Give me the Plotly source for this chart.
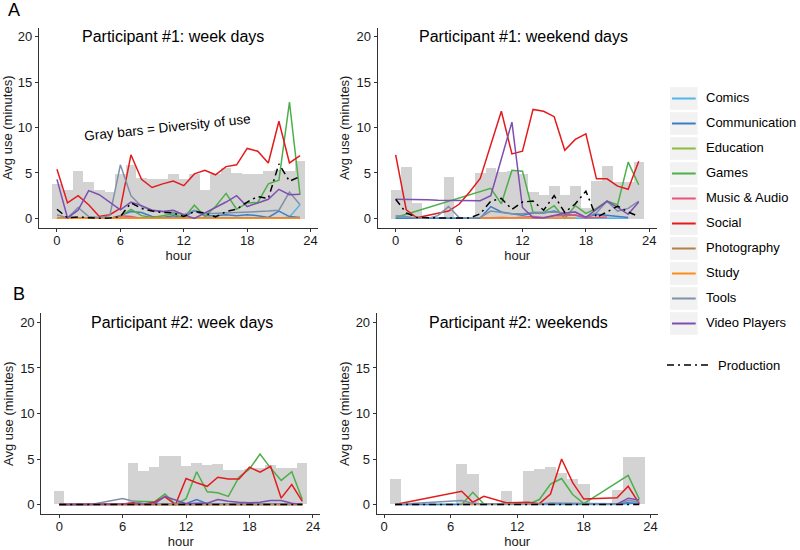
import plotly.graph_objects as go

# ---------------- data ----------------
HOURS = list(range(24))
HOURS_B2 = list(range(1, 24))

CATEGORIES = ["Comics", "Communication", "Education", "Games", "Music & Audio",
              "Social", "Photography", "Study", "Tools", "Video Players"]
COLORS = ["#56B4E9", "#3C7DC4", "#8CBB3F", "#4DAF4A", "#E8537A",
          "#E41A1C", "#B0804A", "#FF8C1A", "#8090A8", "#7E4FB0"]
N = None

# Participant #1: week days
a1_diversity = [3.8, 3.2, 5.2, 4.0, 3.2, 2.9, 4.9, 5.9, 4.5, 4.4, 4.4, 4.9, 4.4, 4.9, 3.2, 4.9, 5.6, 5.0, 4.9, 4.9, 5.3, 5.4, 5.3, 6.3]
a1_comics = [0, 0, 0, 0, 0, 0, 0, 0, 0, 0, 0, 0, 0, 0, 0, 0, 0, 0, 0, 0, 0, 0, 0.15, 1.5]
a1_communication = [0, 0, 0, 0, 0, 0, 0.3, 0.75, 0.65, 0.2, 0.1, 0.3, 0.1, 0.85, 0.3, 0.3, 0.4, 0.3, 0.4, 0.3, 0.1, 0.8, 0.2, 0.1]
a1_education = [0] * 24
a1_games = [0.1, 0, 0, 0, 0, 0, 0.2, 1.0, 0.3, 0.1, 0.3, 0.5, 0.05, 1.45, 0.2, 1.3, 2.75, 1.0, 1.7, 1.75, 3.8, 4.2, 12.8, 2.6]
a1_music = [0, 0, 0, 0, 0, 0, 0.3, 0.2, 0, 0, 0, 0, 0, 0, 0, 0, 0, 0, 0, 0, 0, 0, 0, 0]
a1_social = [5.4, 1.7, 2.5, 1.5, 0.2, 0.4, 1.1, 7.0, 4.3, 3.4, 3.8, 4.1, 3.6, 4.9, 5.3, 4.8, 5.7, 5.9, 7.7, 7.4, 6.1, 10.7, 6.1, 6.9]
a1_photography = [0] * 24
a1_study = [0] * 24
a1_tools = [0.4, 0.05, 1.2, 0.2, 0.1, 0.3, 5.9, 2.5, 1.3, 0.9, 0.75, 0.65, 0.4, 0.9, 0.5, 0.55, 0.6, 0.65, 0.7, 0.7, 0.8, 0.9, 2.9, 1.5]
a1_video = [4.3, 0.05, 0.9, 3.05, 2.6, 1.8, 0.95, 1.8, 1.4, 0.9, 0.75, 0.9, 0.4, 0.0, 0.6, 1.2, 1.8, 2.5, 1.3, 1.7, 2.1, 3.2, 2.6, 2.65]
a1_production = [1.0, 0.05, 0.15, 0.05, 0.0, 0.05, 0.2, 1.7, 1.1, 0.8, 0.65, 0.6, 0.2, 0.75, 0.6, 0.15, 0.75, 1.0, 1.8, 2.4, 2.2, 6.0, 4.1, 4.6]

# Participant #1: weekend days
a2_diversity = [3.2, 5.65, 1.75, 0, 0, 4.55, 0, 0, 5.0, 5.55, 5.1, 5.3, 4.9, 2.9, 2.65, 3.65, 2.65, 3.65, 1.2, 4.1, 5.8, 4.0, 4.0, 6.2]
a2_comics = [0, 0, 0, 0, 0, 0, 0, 0, 0, 0, 0, 0, 0, 0, 0, 0, 0, 0, 0, 0, 0, 0, 0, N]
a2_communication = [0, 0, 0, 0, 0, 0, 0, 0, 0, 1.3, 0.7, 0.5, 0.35, 0.6, 0.6, 0.8, 0.45, 0.35, 0.1, 0.45, 0.35, 0.2, 0.1, N]
a2_education = [N] * 24
a2_games = [0.1, N, N, N, N, N, N, N, N, 3.3, 1.6, 5.3, 5.2, 0.65, 0.65, 1.4, 0.0, 1.4, 0.55, 1.1, 1.9, 1.5, 6.2, 3.7]
a2_music = [N, N, N, N, N, N, N, N, 0.05, 0.1, 0.1, 0.05, 0.1, 0.2, 0.1, 0.3, 0.3, 0.4, 0.05, 0.1, 0.15, N, N, N]
a2_social = [7.0, 0.95, 0.07, 0.3, 0.5, 0.8, 1.55, 2.9, 4.4, 8.0, 11.8, 7.1, 7.4, 12.0, 11.8, 11.2, 7.5, 8.7, 9.3, 4.35, 4.35, 3.55, 3.2, 6.3]
a2_photography = [N] * 24
a2_study = [N, N, N, N, N, N, N, N, 0.03, 0.03, 0.03, 0.03, 0.03, 0.03, 0.03, 0.03, 0.03, 0.03, N, N, N, N, N, N]
a2_tools = [0.3, 0.2, 0.0, 0.0, 0.3, 1.3, 0.1, 0.0, 0.1, 0.8, 0.65, 0.5, 0.5, 0.65, 0.65, 0.7, 0.6, 0.7, 0.1, 0.6, 1.9, 0.8, 1.1, 1.9]
a2_video = [2.1, 2.1, 2.05, 2.05, 2.0, 2.0, 2.0, 2.0, 1.95, 2.5, 6.5, 10.6, 1.2, 0.1, 0.05, 0.3, 0.6, 0.7, 0.1, 1.0, 1.9, 1.2, 0.45, 1.8]
a2_production = [2.1, 0.6, 0.1, 0.05, 0.05, 0.05, 0.05, 0.05, 0.5, 1.9, 2.2, 1.0, 1.8, 1.9, 0.9, 2.5, 0.65, 1.6, 3.0, 0.1, 0.7, 1.35, 0.7, 0.2]

# Participant #2: week days
b1_diversity = [1.5, 0, 0, 0, 0, 0, 0, 4.55, 3.65, 4.1, 5.3, 5.3, 4.2, 4.5, 4.3, 4.4, 3.75, 3.75, 3.9, 4.0, 4.3, 4.0, 3.95, 4.5]
b1_comics = [0] * 23 + [0.05]
b1_communication = [0, 0, 0, 0, 0, 0, 0, 0, 0, 0, 0.05, 0.05, 0.1, 0.55, 0.1, 0.1, 0.1, 0.1, 0.15, 0.15, 0.15, 0.1, 0.1, 0.05]
b1_education = [0] * 24
b1_games = [N, N, N, N, N, N, N, 0.35, 0.35, 0.3, 1.15, 0.0, 0.65, 3.6, 1.4, 1.3, 0.9, 3.0, 3.9, 5.55, 4.0, 2.65, 3.6, 0.55]
b1_music = [0] * 24
b1_social = [0, 0, 0, 0, 0, 0, 0.05, 0.2, 0.05, 0.25, 0.85, 0.0, 2.85, 2.4, 2.0, 3.0, 2.8, 2.8, 4.1, 3.55, 4.2, 0.7, 2.2, 0.35]
b1_photography = [0] * 24
b1_study = [0] * 24
b1_tools = [0, 0, 0, 0, 0.22, 0.43, 0.65, 0.35, 0.1, 0.05, 0.1, 0.05, 0.05, 0.05, 0.05, 0.05, 0.05, 0.05, 0.05, 0.05, 0.1, 0.1, 0.1, 0.05]
b1_video = [0, 0, 0, 0, 0, 0, 0, 0, 0, 0.05, 0.9, 0.5, 0.1, 0.15, 0.15, 0.55, 0.35, 0.25, 0.2, 0.25, 0.45, 0.45, 0.15, 0.0]
b1_production = [0] * 24

# Participant #2: weekends (hours 1..23)
b2_diversity = [2.75, 0, 0, 0, 0, 0, 4.45, 3.35, 0, 0, 1.45, 0, 3.65, 3.9, 4.1, 3.45, 2.8, 2.2, 0, 0, 1.55, 5.2, 5.2]
b2_comics = [0, N, N, N, N, N, 0, 0, 0, N, 0, 0, 0, 0, 0, 0, 0, 0, N, N, 0, 0.1, 0.2]
b2_communication = [0, N, N, N, N, N, 0, 0, 0, N, 0, 0, 0.05, 0.05, 0.15, 0.15, 0.15, 0.1, N, N, 0.1, 0.2, 0.05]
b2_education = [N] * 23
b2_games = [N, N, N, N, N, N, 0.0, 1.35, 0.05, N, 0.05, 0.05, 0.05, 0.55, 2.25, 2.85, 1.1, 0.1, N, N, N, 3.2, 0.6]
b2_music = [N] * 23
b2_social = [0, N, N, N, N, N, 1.45, 0.25, 0.9, N, 0.2, 0.2, 0.25, 0.1, 1.15, 5.0, 2.4, 0.6, N, N, 0.75, 2.0, 0.1]
b2_photography = [N] * 23
b2_study = [N, N, N, N, N, N, 0.02, 0.02, N, N, N, N, 0.02, 0.02, N, N, N, N, N, N, N, N, N]
b2_tools = [0, N, N, N, N, N, 0.45, 0.15, 0.05, N, 0.05, 0.05, 0.05, 0.05, 0.05, 0.05, 0.05, 0.05, N, N, 0.05, 0.45, 0.3]
b2_video = [N, N, N, N, N, N, N, N, N, N, N, N, N, N, N, N, N, N, N, N, 0.05, 0.7, 0.5]
b2_production = [0] * 23

X_TICKS = [0, 6, 12, 18, 24]
Y_TICKS = [0, 5, 10, 15, 20]

# ---------------- layout helpers ----------------
W, H = 800, 550
FONT = "Liberation Sans, Arial, sans-serif"


def fx(p):
    return p / W


def fy(p):
    return 1 - p / H


panels = [
    dict(hours=HOURS, div=a1_diversity,
         series=[a1_comics, a1_communication, a1_education, a1_games, a1_music, a1_social,
                 a1_photography, a1_study, a1_tools, a1_video], prod=a1_production,
         xpx=(39, 318), ypx=(27.7, 227.9), xr=(-1.7, 24.7),
         title="Participant #1: week days", tpos=(172.5, 37)),
    dict(hours=HOURS, div=a2_diversity,
         series=[a2_comics, a2_communication, a2_education, a2_games, a2_music, a2_social,
                 a2_photography, a2_study, a2_tools, a2_video], prod=a2_production,
         xpx=(377.7, 656.7), ypx=(27.7, 227.9), xr=(-1.7, 24.7),
         title="Participant #1: weekend days", tpos=(523.8, 37)),
    dict(hours=HOURS, div=b1_diversity,
         series=[b1_comics, b1_communication, b1_education, b1_games, b1_music, b1_social,
                 b1_photography, b1_study, b1_tools, b1_video], prod=b1_production,
         xpx=(41.3, 320.3), ypx=(313.3, 514.1), xr=(-1.7, 24.7),
         title="Participant #2: week days", tpos=(182, 322.5)),
    dict(hours=HOURS_B2, div=b2_diversity,
         series=[b2_comics, b2_communication, b2_education, b2_games, b2_music, b2_social,
                 b2_photography, b2_study, b2_tools, b2_video], prod=b2_production,
         xpx=(376.8, 657.6), ypx=(313.3, 514.1), xr=(-0.65, 24.65),
         title="Participant #2: weekends", tpos=(518.7, 322.5)),
]

fig = go.Figure()
annotations = []
shapes = []
layout_axes = {}

for i, p in enumerate(panels, start=1):
    xa = "x" if i == 1 else f"x{i}"
    ya = "y" if i == 1 else f"y{i}"
    fig.add_trace(go.Bar(x=p["hours"], y=p["div"], width=1, marker_color="#D3D3D3",
                         marker_line_width=0, xaxis=xa, yaxis=ya, showlegend=False,
                         name="Diversity of use", hoverinfo="skip"))
    for name, col, vals in zip(CATEGORIES, COLORS, p["series"]):
        fig.add_trace(go.Scatter(x=p["hours"], y=vals, mode="lines", name=name,
                                 line=dict(color=col, width=1.5), connectgaps=True,
                                 xaxis=xa, yaxis=ya, showlegend=False))
    fig.add_trace(go.Scatter(x=p["hours"], y=p["prod"], mode="lines", name="Production",
                             line=dict(color="black", width=1.5, dash="7px,4px,2px,4px"),
                             connectgaps=True, xaxis=xa, yaxis=ya, showlegend=False))

    axfont = dict(family=FONT, size=13, color="#1a1a1a")
    layout_axes["xaxis" if i == 1 else f"xaxis{i}"] = dict(
        domain=[fx(p["xpx"][0]), fx(p["xpx"][1])], range=list(p["xr"]), anchor=ya,
        tickvals=X_TICKS, ticks="outside", ticklen=3, tickwidth=1, tickcolor="#333",
        ticklabelstandoff=-3,
        showline=True, linecolor="#333", linewidth=1.2, showgrid=False, zeroline=False,
        tickfont=axfont, title=dict(text="hour", font=dict(family=FONT, size=13, color="#1a1a1a"), standoff=1))
    layout_axes["yaxis" if i == 1 else f"yaxis{i}"] = dict(
        domain=[fy(p["ypx"][1]), fy(p["ypx"][0])], range=[-1.05, 21], anchor=xa,
        tickvals=Y_TICKS, ticks="outside", ticklen=3, tickwidth=1, tickcolor="#333",
        showline=True, linecolor="#333", linewidth=1.2, showgrid=False, zeroline=False,
        tickfont=axfont, title=dict(text="Avg use (minutes)", font=dict(family=FONT, size=13, color="#1a1a1a"), standoff=3))
    annotations.append(dict(text=p["title"], x=fx(p["tpos"][0]), y=fy(p["tpos"][1]),
                            xref="paper", yref="paper", xanchor="center", yanchor="middle",
                            showarrow=False, font=dict(family=FONT, size=16, color="black")))

# panel letters
annotations.append(dict(text="A", x=fx(14.5), y=fy(10), xref="paper", yref="paper",
                        xanchor="center", yanchor="middle", showarrow=False,
                        font=dict(family=FONT, size=18, color="black")))
annotations.append(dict(text="B", x=fx(19), y=fy(294), xref="paper", yref="paper",
                        xanchor="center", yanchor="middle", showarrow=False,
                        font=dict(family=FONT, size=18, color="black")))
# note
annotations.append(dict(text="Gray bars = Diversity of use", x=fx(167), y=fy(128),
                        xref="paper", yref="paper", xanchor="center", yanchor="middle",
                        textangle=-6, showarrow=False,
                        font=dict(family=FONT, size=13.5, color="black")))

# legend (drawn manually to mimic ggplot keys)
for k, (name, col) in enumerate(zip(CATEGORIES, COLORS)):
    cy = 98.5 + 25 * k
    shapes.append(dict(type="rect", xref="paper", yref="paper",
                       x0=fx(670), x1=fx(697.7), y0=fy(cy + 11.3), y1=fy(cy - 11.3),
                       fillcolor="#F2F2F2", line=dict(width=0), layer="above"))
    shapes.append(dict(type="line", xref="paper", yref="paper",
                       x0=fx(672), x1=fx(695.7), y0=fy(cy), y1=fy(cy),
                       line=dict(color=col, width=2), layer="above"))
    annotations.append(dict(text=name, x=fx(704), y=fy(cy - 1), xref="paper", yref="paper",
                            xanchor="left", yanchor="middle", showarrow=False,
                            font=dict(family=FONT, size=13, color="black")))
shapes.append(dict(type="line", xref="paper", yref="paper", x0=fx(667), x1=fx(708),
                   y0=fy(365), y1=fy(365),
                   line=dict(color="black", width=1.5, dash="7px,4px,2px,4px"), layer="above"))
annotations.append(dict(text="Production", x=fx(716), y=fy(365), xref="paper", yref="paper",
                        xanchor="left", yanchor="middle", showarrow=False,
                        font=dict(family=FONT, size=13, color="black")))

fig.update_layout(width=W, height=H, margin=dict(l=0, r=0, t=0, b=0),
                  paper_bgcolor="white", plot_bgcolor="white", showlegend=False,
                  bargap=0, annotations=annotations, shapes=shapes,
                  font=dict(family=FONT), **layout_axes)

fig.write_html("out.html", config={"displayModeBar": False},
               post_script="document.body.style.margin='0';document.body.style.overflow='hidden';")
